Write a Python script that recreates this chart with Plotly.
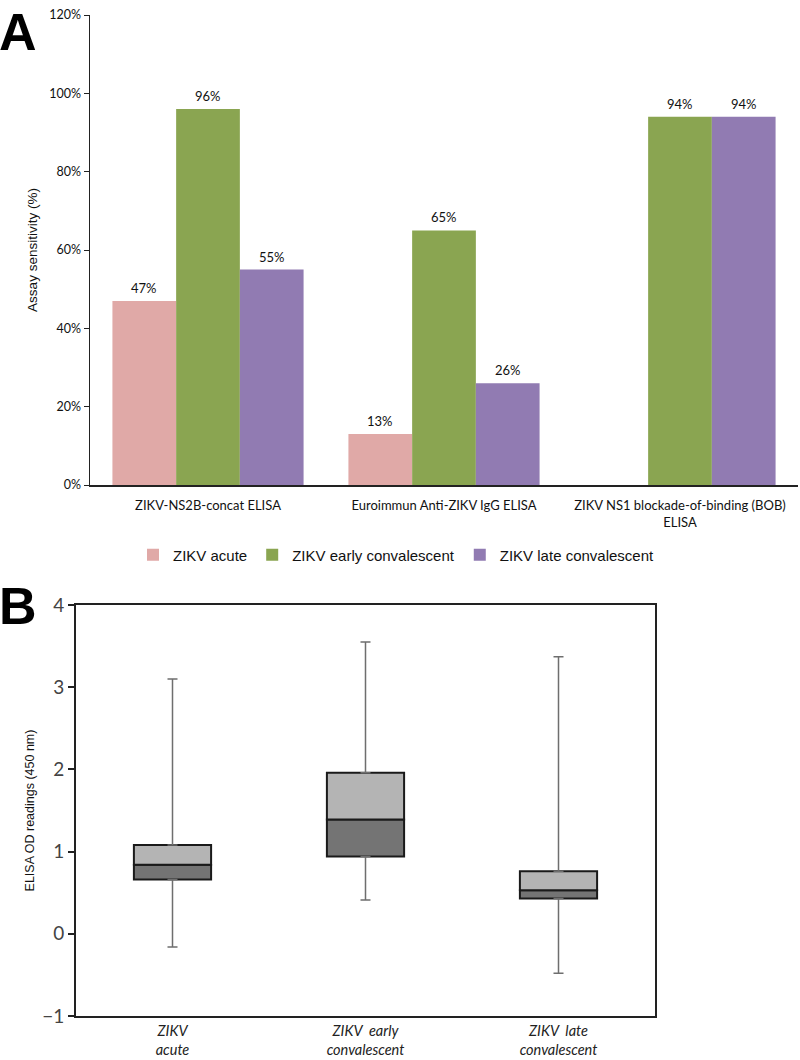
import plotly.graph_objects as go

# ---------- Panel A data ----------
assays = ["ZIKV-NS2B-concat ELISA",
          "Euroimmun Anti-ZIKV IgG ELISA",
          "ZIKV NS1 blockade-of-binding (BOB)<br>ELISA"]
series_names = ["ZIKV acute", "ZIKV early convalescent", "ZIKV late convalescent"]
acute = [47, 13, None]
early = [96, 65, 94]
late = [55, 26, 94]
series_colors = ["#E0A9A7", "#8AA551", "#917BB2"]

# ---------- Panel B data ----------
groups = ["ZIKV<br>acute", "ZIKV  early<br>convalescent", "ZIKV  late<br>convalescent"]
od_min = [-0.16, 0.41, -0.48]
od_q1 = [0.66, 0.94, 0.43]
od_median = [0.84, 1.39, 0.53]
od_q3 = [1.08, 1.96, 0.76]
od_max = [3.10, 3.55, 3.37]

W, H = 800, 1060
CAL = "Lato, 'Open Sans', sans-serif"
ARIAL = "'Liberation Sans', Arial, sans-serif"
BARGAP = 0.19

fig = go.Figure()

series_vals = [acute, early, late]
for name, vals, col in zip(series_names, series_vals, series_colors):
    fig.add_trace(go.Bar(
        x=assays, y=vals, name=name, marker=dict(color=col, line=dict(width=0)),
        xaxis="x", yaxis="y"))

# value labels above bars
annotations = []
bw = (1 - BARGAP) / len(series_vals)
for j, vals in enumerate(series_vals):
    for i, v in enumerate(vals):
        if v is None:
            continue
        annotations.append(dict(
            text=f"{v}%", x=i + (j - 1) * bw, y=v, xref="x", yref="y",
            xanchor="center", yanchor="middle", yshift=13, showarrow=False,
            font=dict(family=CAL, size=13, color="#111")))

# Panel B boxes: lower half (Q1-median) dark, upper half (median-Q3) light
fig.add_trace(go.Bar(
    x=groups, base=od_q1, y=[m - q for m, q in zip(od_median, od_q1)],
    width=0.4, offset=-0.2, marker=dict(color="#747474", line=dict(color="#1a1a1a", width=2)),
    showlegend=False, xaxis="x2", yaxis="y2"))
fig.add_trace(go.Bar(
    x=groups, base=od_median, y=[q - m for q, m in zip(od_q3, od_median)],
    width=0.4, offset=-0.2, marker=dict(color="#B4B4B4", line=dict(color="#1a1a1a", width=2)),
    showlegend=False, xaxis="x2", yaxis="y2"))
# Whiskers
fig.add_trace(go.Scatter(
    x=groups, y=od_q3, mode="markers", marker=dict(size=1, color="rgba(0,0,0,0)"),
    error_y=dict(type="data", symmetric=False, array=[a - q for a, q in zip(od_max, od_q3)],
                 arrayminus=[0, 0, 0], color="#6e6e6e", thickness=1.5, width=5),
    showlegend=False, xaxis="x2", yaxis="y2"))
fig.add_trace(go.Scatter(
    x=groups, y=od_q1, mode="markers", marker=dict(size=1, color="rgba(0,0,0,0)"),
    error_y=dict(type="data", symmetric=False, array=[0, 0, 0],
                 arrayminus=[q - a for q, a in zip(od_q1, od_min)], color="#6e6e6e", thickness=1.5, width=5),
    showlegend=False, xaxis="x2", yaxis="y2"))

annotations += [
    dict(text="<b>A</b>", x=0, y=1, xref="paper", yref="paper", xanchor="left", yanchor="top",
         showarrow=False, font=dict(family=ARIAL, size=52, color="#000"), yshift=-1, xshift=-3),
    dict(text="<b>B</b>", x=0, y=1 - 590 / H, xref="paper", yref="paper", xanchor="left", yanchor="top",
         showarrow=False, font=dict(family=ARIAL, size=52, color="#000"), yshift=15, xshift=-3),
]

fig.update_layout(
    width=W, height=H, margin=dict(l=0, r=0, t=0, b=0, autoexpand=False),
    paper_bgcolor="white", plot_bgcolor="white",
    barmode="group", bargap=BARGAP, bargroupgap=0,
    showlegend=True, hovermode=False,
    legend=dict(orientation="h", x=133 / W, y=1 - 555 / H, xanchor="left", yanchor="middle",
                font=dict(family=ARIAL, size=15, color="#111"), itemwidth=30,
                bgcolor="rgba(0,0,0,0)"),
    xaxis=dict(domain=[90 / W, 798 / W], anchor="y", showline=True, linecolor="#222", linewidth=1.5,
               ticks="", tickfont=dict(family=CAL, size=13, color="#111"), showgrid=False,
               range=[-0.5, 2.5], automargin=False, ticklabelstandoff=8),
    yaxis=dict(domain=[1 - 485 / H, 1 - 15 / H], anchor="x", range=[0, 120], dtick=20,
               ticksuffix="%", showline=True, linecolor="#222", linewidth=1.5, ticks="outside",
               ticklen=5, tickcolor="#222", showgrid=False, zeroline=False, automargin=False,
               tickfont=dict(family=CAL, size=12.5, color="#111"),
               title=dict(text="Assay sensitivity (%)", font=dict(family=ARIAL, size=13.5, color="#111"),
                          standoff=8)),
    xaxis2=dict(domain=[76 / W, 655 / W], anchor="y2", showline=True, mirror=True, linecolor="#222",
                linewidth=2, ticks="", showgrid=False, range=[-0.5, 2.5], automargin=False,
                ticklabelstandoff=1,
                tickfont=dict(family=CAL, size=14.5, color="#222", style="italic")),
    yaxis2=dict(domain=[1 - 1016 / H, 1 - 605 / H], anchor="x2", range=[-1, 4], dtick=1,
                showline=True, mirror=True, linecolor="#222", linewidth=2, ticks="outside",
                ticklen=6, tickcolor="#222", tickwidth=2, showgrid=False, zeroline=False,
                automargin=False,
                tickfont=dict(family=CAL, size=19, color="#444"),
                title=dict(text="ELISA OD readings (450 nm)", font=dict(family=ARIAL, size=12.5, color="#111"),
                           standoff=5)),
    annotations=annotations,
)

fig.write_html("out.html", config={"displayModeBar": False, "staticPlot": True},
               post_script="document.body.style.margin='0';document.body.style.padding='0';")
